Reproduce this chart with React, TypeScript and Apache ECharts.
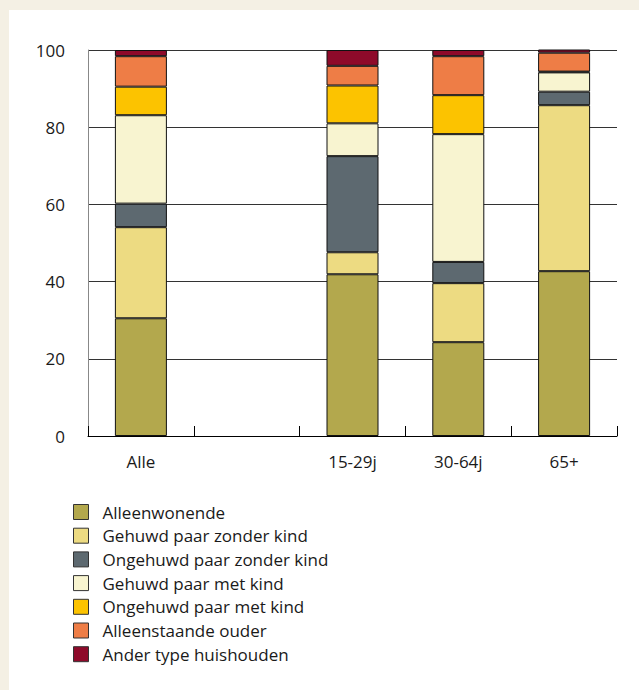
import React, { useEffect, useRef } from "react";
import * as echarts from "echarts";

const categories = ["Alle", "", "15-29j", "30-64j", "65+"];
const seriesNames = [
  "Alleenwonende",
  "Gehuwd paar zonder kind",
  "Ongehuwd paar zonder kind",
  "Gehuwd paar met kind",
  "Ongehuwd paar met kind",
  "Alleenstaande ouder",
  "Ander type huishouden",
];
const alleenwonende = [30.5, null, 41.9, 24.3, 42.7];
const gehuwdZonder = [23.6, null, 5.7, 15.3, 43.0];
const ongehuwdZonder = [6.1, null, 24.9, 5.5, 3.5];
const gehuwdMet = [22.9, null, 8.5, 33.1, 5.0];
const ongehuwdMet = [7.4, null, 9.8, 10.1, 0.2];
const alleenstaandeOuder = [7.9, null, 5.1, 10.1, 4.9];
const anderType = [1.6, null, 4.1, 1.6, 0.9];
const seriesValues = [
  alleenwonende,
  gehuwdZonder,
  ongehuwdZonder,
  gehuwdMet,
  ongehuwdMet,
  alleenstaandeOuder,
  anderType,
];
const colors = ["#B3A84D", "#EDDB82", "#5D6970", "#F8F4D0", "#FCC300", "#EE7D46", "#8E0A2A"];

const FONT = "'Open Sans', 'Noto Sans', sans-serif";

export default function App() {
  const ref = useRef<HTMLDivElement>(null);
  useEffect(() => {
    document.body.style.margin = "0";
    if (!ref.current) return;
    const chart = echarts.init(ref.current, null, { renderer: "svg" });
    chart.setOption({
      animation: false,
      textStyle: { fontFamily: FONT },
      grid: { left: 79, right: 22, top: 40, bottom: 254 },
      legend: {
        orient: "vertical",
        left: 64,
        top: 492,
        padding: 0,
        itemWidth: 15,
        itemHeight: 15,
        itemGap: 3.7,
        icon: "rect",
        selectedMode: false,
        itemStyle: { borderColor: "#333", borderWidth: 1 },
        textStyle: {
          fontSize: 17,
          color: "#1a1a1a",
          fontFamily: FONT,
          lineHeight: 20,
          padding: [0, 0, 0, 9],
        },
        data: seriesNames,
      },
      xAxis: {
        type: "category",
        data: categories,
        axisLine: { lineStyle: { color: "#000", width: 1 } },
        axisTick: { show: true, inside: true, length: 10, lineStyle: { color: "#000" } },
        axisLabel: { fontSize: 17, color: "#1a1a1a", margin: 17, fontFamily: FONT },
      },
      yAxis: {
        type: "value",
        min: 0,
        max: 100,
        interval: 20,
        axisLine: { show: true, lineStyle: { color: "#888" } },
        axisTick: { show: false },
        axisLabel: { fontSize: 17, color: "#1a1a1a", margin: 23, fontFamily: FONT },
        splitLine: { show: true, lineStyle: { color: "#333", width: 1 } },
      },
      series: seriesNames.map((name, i) => ({
        name,
        type: "bar",
        stack: "total",
        barWidth: 52,
        data: seriesValues[i],
        itemStyle: { color: colors[i], borderColor: "#111", borderWidth: 1 },
      })),
    });
    return () => chart.dispose();
  }, []);
  return (
    <div style={{ position: "relative", width: 639, height: 690, background: "#F4F0E4" }}>
      <div
        ref={ref}
        style={{ position: "absolute", left: 9, top: 10, width: 630, height: 680, background: "#fff" }}
      />
    </div>
  );
}
